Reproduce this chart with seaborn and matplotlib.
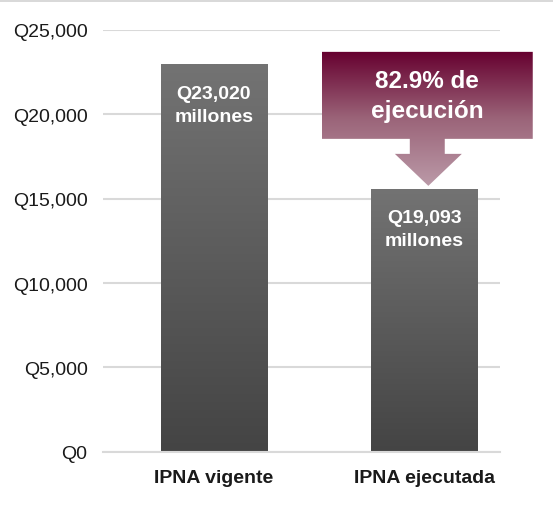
import numpy as np
import pandas as pd
import seaborn as sns
import matplotlib.pyplot as plt
from matplotlib.patches import Polygon, Rectangle
from matplotlib.colors import LinearSegmentedColormap
from matplotlib.ticker import FuncFormatter

# datos
categorias = ['IPNA vigente', 'IPNA ejecutada']
alturas = [22950, 15600]
etiquetas = ['Q23,020\nmillones', 'Q19,093\nmillones']
texto_ejecucion = '82.9% de\nejecución'
yticks = [0, 5000, 10000, 15000, 20000, 25000]

sns.set_theme(style='white')
plt.rcParams['font.family'] = ['Liberation Sans', 'DejaVu Sans']

df = pd.DataFrame({'categoria': categorias, 'monto': alturas})

fig = plt.figure(figsize=(5.53, 5.06), dpi=100)
ax = fig.add_axes([0.186, 0.105, 0.718, 0.834])

sns.barplot(data=df, x='categoria', y='monto', color='#5a5a5a', width=0.504,
            ax=ax, zorder=2)

ax.set_yticks(yticks)
ax.yaxis.set_major_formatter(FuncFormatter(lambda v, p: f'Q{v:,.0f}'))
ax.grid(axis='y', color='#d9d9d9', linewidth=1.5, zorder=0)
ax.set_axisbelow(True)
for s in ['top', 'right', 'left']:
    ax.spines[s].set_visible(False)
ax.spines['bottom'].set_color('#d9d9d9')
ax.spines['bottom'].set_linewidth(1.5)
ax.set_xlabel('')
ax.set_ylabel('')
ax.tick_params(axis='y', labelsize=14, pad=11, length=0, colors='#1a1a1a')
ax.tick_params(axis='x', labelsize=14, pad=12, length=0, colors='#1a1a1a')
for t in ax.get_xticklabels():
    t.set_fontweight('bold')

# degradado gris en las barras
gris = LinearSegmentedColormap.from_list('gris', ['#444444', '#737373'])
grad = np.linspace(0, 1, 256).reshape(-1, 1)
for bar in ax.patches:
    x0, w, h = bar.get_x(), bar.get_width(), bar.get_height()
    bar.set_facecolor('none')
    bar.set_edgecolor('none')
    im = ax.imshow(grad, cmap=gris, aspect='auto', origin='lower',
                   extent=(x0, x0 + w, 0, h), zorder=2)
    im.set_clip_path(bar)

ax.set_xlim(-0.527, 1.359)
ax.set_ylim(0, 25000)

for i, (h, txt) in enumerate(zip(alturas, etiquetas)):
    ax.annotate(txt, xy=(i, h), xytext=(0, -15), textcoords='offset points',
                ha='center', va='top', color='white', fontsize=14,
                fontweight='bold', linespacing=1.4, zorder=4)

# llamada con flecha sobre la segunda barra (se dibuja en un eje superpuesto
# para que pueda salir del area del grafico)
bx0, bx1 = 0.513, 1.515
by0, by1 = 18543, 23697
sx0, sx1, sy = 0.931, 1.097, 17654
hx0, hx1, tip_x, tip_y = 0.860, 1.178, 1.019, 15758
forma = np.array([(bx0, by1), (bx1, by1), (bx1, by0), (sx1, by0), (sx1, sy),
                  (hx1, sy), (tip_x, tip_y), (hx0, sy), (sx0, sy), (sx0, by0),
                  (bx0, by0)])

top = fig.add_axes([0, 0, 1, 1], zorder=3)
top.axis('off')
top.patch.set_alpha(0)
a_fig = fig.transFigure.inverted()
forma_fig = a_fig.transform(ax.transData.transform(forma))
poly = Polygon(forma_fig, closed=True, facecolor='none', edgecolor='none')
top.add_patch(poly)
xmin, ymin = forma_fig.min(axis=0)
xmax, ymax = forma_fig.max(axis=0)
vino = LinearSegmentedColormap.from_list('vino', ['#bb9aa8', '#9b6479', '#66002f'])
im = top.imshow(grad, cmap=vino, aspect='auto', origin='lower',
                extent=(xmin, xmax, ymin, ymax))
im.set_clip_path(poly)
top.set_xlim(0, 1)
top.set_ylim(0, 1)
cx, cy = a_fig.transform(ax.transData.transform(((bx0 + bx1) / 2, (by0 + by1) / 2)))
top.text(cx, cy, texto_ejecucion, ha='center', va='center', color='white',
         fontsize=17.5, fontweight='bold', linespacing=1.35)

# franja gris arriba
fig.patches.append(Rectangle((0, 0.994), 1, 0.006, transform=fig.transFigure,
                             facecolor='#d9d9d9', edgecolor='none'))

fig.savefig('out.png', dpi=100)
